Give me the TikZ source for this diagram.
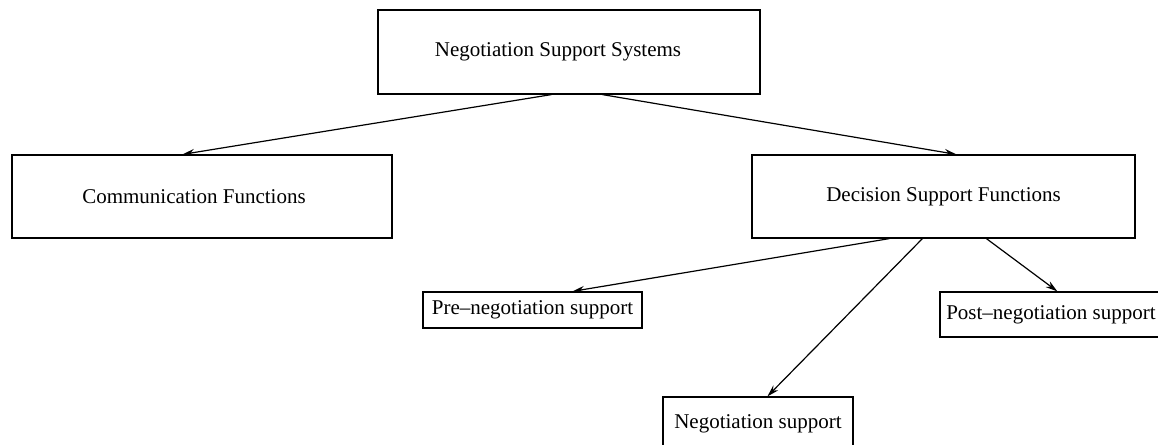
\documentclass[tikz,border=0pt]{standalone}
\usepackage{fontspec}
\setmainfont{Liberation Serif}
\usetikzlibrary{arrows.meta}
\tikzset{
  box/.style={draw, line width=1.2pt, inner sep=0pt, align=center,
    font=\fontsize{21}{25}\selectfont},
  link/.style={line width=1.2pt, -{Stealth[length=12pt,width=7pt]}}
}
\begin{document}
\begin{tikzpicture}[x=1pt,y=-1pt]
\useasboundingbox (0,0) rectangle (1158,444);
\clip (0,0) rectangle (1158,444);

% boxes
\node[box, minimum width=382pt, minimum height=84pt] (nss)  at (569,52)    {Negotiation Support Systems\hspace*{22pt}};
\node[box, minimum width=380pt, minimum height=83pt] (comm) at (202,196.5) {Communication Functions\hspace*{16pt}};
\node[box, minimum width=383pt, minimum height=83pt] (dsf)  at (943.5,196.5) {Decision Support Functions};
\node[box, minimum width=219pt, minimum height=36pt] (pre)  at (532.5,310) {Pre--negotiation support};
\node[box, minimum width=222pt, minimum height=45pt] (post) at (1051,314.5) {Post--negotiation support};
\node[box, minimum width=190pt, minimum height=54pt] (neg)  at (758,424)   {Negotiation support};

% connectors
\draw[link] ([xshift=174pt]nss.south west) -- ([xshift=171pt]comm.north west);
\draw[link] ([xshift=225pt]nss.south west) -- ([xshift=205pt]dsf.north west);
\draw[link] ([xshift=138pt]dsf.south west) -- ([xshift=150pt]pre.north west);
\draw[link] ([xshift=171pt]dsf.south west) -- ([xshift=105pt]neg.north west);
\draw[link] ([xshift=235pt]dsf.south west) -- ([xshift=118pt]post.north west);
\end{tikzpicture}
\end{document}
